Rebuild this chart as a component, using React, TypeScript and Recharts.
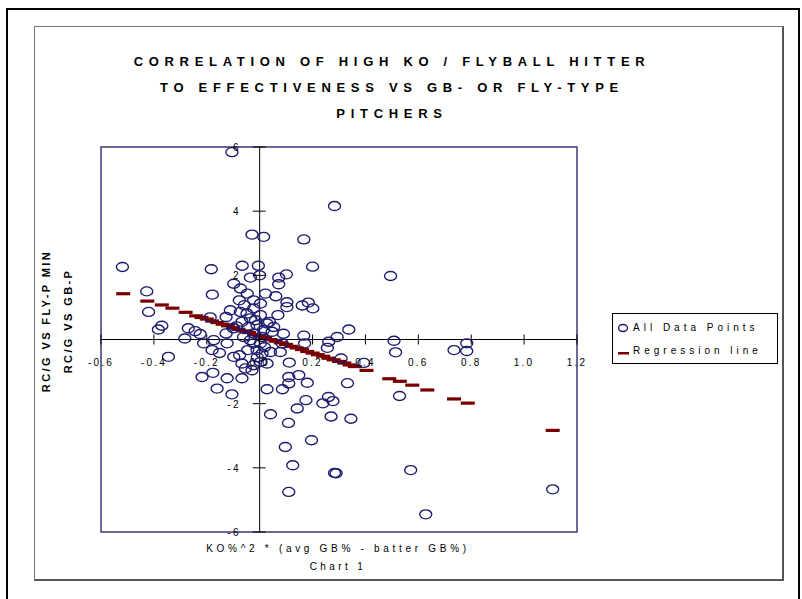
import React from 'react';
import { ScatterChart, Scatter, XAxis, YAxis, ReferenceLine, ReferenceArea } from 'recharts';

const W = 802;
const H = 599;
const AXIS_H = 30;
const AXIS_W = 30;
const PLOT_LEFT = 101;
const PLOT_TOP = 147;
const PLOT_RIGHT = 577;
const PLOT_BOTTOM = 532;
const MARGIN = { top: PLOT_TOP, right: W - PLOT_RIGHT, bottom: H - PLOT_BOTTOM - AXIS_H, left: PLOT_LEFT - AXIS_W };
const X_MIN = -0.6;
const X_MAX = 1.2;
const Y0 = (PLOT_TOP + PLOT_BOTTOM) / 2;
const X0 = PLOT_LEFT + ((PLOT_RIGHT - PLOT_LEFT) * (0 - X_MIN)) / (X_MAX - X_MIN);

const titleLines = [
  'CORRELATION OF HIGH KO / FLYBALL HITTER',
  'TO EFFECTIVENESS VS GB- OR FLY-TYPE',
  'PITCHERS',
];
const yTitleLines = ['RC/G VS FLY-P MIN', 'RC/G VS GB-P'];
const xTitle = 'KO%^2 * (avg GB% - batter GB%)';
const caption = 'Chart 1';
const seriesNames = ['All Data Points', 'Regression line'];

const xTicks = [-0.6, -0.4, -0.2, 0, 0.2, 0.4, 0.6, 0.8, 1.0, 1.2];
const xTickLabels = ['-0.6', '-0.4', '-0.2', '0.0', '0.2', '0.4', '0.6', '0.8', '1.0', '1.2'];
const yTicks = [-6, -4, -2, 0, 2, 4, 6];
const yTickLabels = ['-6', '-4', '-2', '', '2', '4', '6'];

const pointX = [
  -0.105, 0.283, -0.029, 0.015, 0.167, -0.519, -0.183, -0.066, -0.005, 0.2,
  0.495, 0.0, -0.035, 0.072, 0.101, -0.098, 0.072, -0.073, -0.047, -0.427,
  -0.179, 0.022, 0.061, -0.077, -0.023, 0.003, 0.103, 0.103, 0.161, 0.184,
  0.201, -0.42, -0.187, -0.111, -0.127, -0.37, -0.383, -0.27, -0.244, -0.225,
  -0.127, 0.069, 0.037, 0.09, 0.167, 0.053, 0.293, 0.337, 0.261, 0.256,
  0.17, 0.078, 0.041, 0.112, 0.009, 0.308, 0.148, 0.11, 0.11, 0.18,
  0.086, 0.028, 0.332, 0.26, 0.277, 0.239, 0.175, 0.142, 0.041, 0.27,
  0.109, 0.345, 0.196, 0.097, 0.125, 0.11, 0.283, 0.289, 0.571, 0.628,
  1.108, 0.529, 0.508, 0.514, 0.735, 0.783, 0.783, 0.394, -0.283, -0.212,
  -0.18, -0.152, -0.123, -0.098, -0.067, -0.023, 0.003, 0.028, 0.085, -0.218,
  -0.177, -0.123, -0.067, -0.161, -0.105, -0.345, -0.174, -0.076, -0.054, -0.029,
  -0.073, -0.048, -0.023, -0.067, -0.042, -0.023, -0.061, -0.023, -0.045, -0.01,
  0.003, -0.01, 0.009, 0.028, 0.047, 0.003, -0.035, -0.088, -0.016, 0.014,
  -0.058, -0.035, -0.009, -0.1, 0.018,
];
const pointY = [
  5.84, 4.16, 3.27, 3.2, 3.12, 2.26, 2.19, 2.3, 2.3, 2.27,
  1.98, 2.0, 1.93, 1.93, 2.03, 1.74, 1.72, 1.59, 1.43, 1.5,
  1.4, 1.43, 1.35, 1.22, 1.22, 1.12, 1.16, 1.01, 1.06, 1.15,
  0.97, 0.86, 0.69, 0.91, 0.7, 0.43, 0.31, 0.35, 0.26, 0.17,
  0.19, 0.76, 0.55, 0.18, 0.12, 0.39, 0.08, 0.31, -0.07, -0.26,
  -0.12, -0.39, -0.39, -0.72, -0.44, -0.59, -1.11, -1.17, -1.37, -1.35,
  -1.55, -1.55, -1.36, -1.79, -1.92, -1.99, -1.89, -2.15, -2.33, -2.4,
  -2.6, -2.47, -3.14, -3.35, -3.92, -4.75, -4.16, -4.17, -4.07, -5.45,
  -4.67, -1.76, -0.04, -0.4, -0.33, -0.12, -0.36, -0.73, 0.03, -0.12,
  -0.33, -0.42, -0.12, -0.54, -0.75, -0.8, -0.7, -0.75, -0.12, -1.17,
  -1.04, -1.21, -1.21, -1.53, -1.71, -0.54, -0.02, -0.49, -0.9, -0.96,
  0.86, 0.81, 0.97, 0.55, 0.39, 0.19, 0.08, -0.12, -0.33, -0.33,
  0.76, 0.45, 0.08, 0.5, 0.24, -0.12, 0.66, 0.41, 0.6, 0.29,
  1.07, -0.02, -0.55, 0.35, -0.24,
];

const regX = [
  -0.516, -0.425, -0.37, -0.33, -0.28, -0.24, -0.22, -0.2, -0.18, -0.16,
  -0.14, -0.12, -0.1, -0.08, -0.06, -0.04, -0.02, 0.0, 0.02, 0.04,
  0.06, 0.08, 0.1, 0.12, 0.14, 0.16, 0.18, 0.2, 0.22, 0.24,
  0.26, 0.28, 0.3, 0.32, 0.34, 0.36, 0.404, 0.49, 0.53, 0.577,
  0.634, 0.735, 0.787, 1.108,
];
const regY = [
  1.43, 1.2, 1.08, 0.98, 0.85, 0.74, 0.69, 0.64, 0.58, 0.53,
  0.48, 0.43, 0.37, 0.32, 0.27, 0.22, 0.16, 0.11, 0.06, 0.0,
  -0.05, -0.1, -0.15, -0.21, -0.26, -0.31, -0.37, -0.42, -0.47, -0.52,
  -0.58, -0.63, -0.68, -0.73, -0.79, -0.84, -0.96, -1.22, -1.3, -1.42,
  -1.57, -1.85, -1.98, -2.83,
];

const pointData = pointX.map((x, i) => ({ x, y: pointY[i] }));
const regData = regX.map((x, i) => ({ x, y: regY[i] }));

const NAVY = '#1c1c6e';
const MAROON = '#7a0000';
const FONT = 'Liberation Sans, Arial, sans-serif';

const Oval = (props: any) => {
  const { cx, cy } = props;
  if (cx == null || cy == null) return null;
  return <ellipse cx={cx} cy={cy} rx={6} ry={4.5} fill="none" stroke={NAVY} strokeWidth={1.4} />;
};

const Dash = (props: any) => {
  const { cx, cy } = props;
  if (cx == null || cy == null) return null;
  return <rect x={cx - 7} y={cy - 1.5} width={14} height={3.2} fill={MAROON} />;
};

const XTick = (props: any) => {
  const { x, payload } = props;
  const idx = xTicks.findIndex((t) => Math.abs(t - payload.value) < 1e-6);
  return (
    <g>
      <line x1={x} x2={x} y1={Y0 - 5} y2={Y0 + 5} stroke="#000" strokeWidth={1} />
      <text x={x} y={Y0 + 26} textAnchor="middle" fill="#000" fontFamily={FONT} fontSize={10} letterSpacing={2.2}>
        {idx >= 0 ? xTickLabels[idx] : ''}
      </text>
    </g>
  );
};

const YTick = (props: any) => {
  const { y, payload } = props;
  const idx = yTicks.findIndex((t) => Math.abs(t - payload.value) < 1e-6);
  return (
    <g>
      <line x1={X0 - 7} x2={X0 + 6} y1={y} y2={y} stroke="#000" strokeWidth={1} />
      <text x={X0 - 19} y={y + 4} textAnchor="end" fill="#000" fontFamily={FONT} fontSize={10} letterSpacing={2.2}>
        {idx >= 0 ? yTickLabels[idx] : ''}
      </text>
    </g>
  );
};

export default function App() {
  return (
    <div style={{ position: 'absolute', left: 0, top: 0, width: W, height: H, background: '#fff', fontFamily: FONT }}>
      {/* outer page frame */}
      <div style={{ position: 'absolute', left: 6, top: 8, width: 790, height: 620, borderLeft: '2px solid #000', borderTop: '2px solid #000', borderRight: '2px solid #000' }} />
      {/* chart frame */}
      <div style={{ position: 'absolute', left: 34, top: 26, width: 747, height: 552, border: '1px solid #777', borderRightWidth: 2, borderBottomWidth: 2, borderRightColor: '#555', borderBottomColor: '#555' }} />

      <div style={{ position: 'absolute', left: 0, top: 0 }}>
        <ScatterChart width={W} height={H} margin={MARGIN}>
          <XAxis
            dataKey="x"
            type="number"
            domain={[X_MIN, X_MAX]}
            ticks={xTicks}
            interval={0}
            allowDataOverflow
            axisLine={false}
            tickLine={false}
            height={AXIS_H}
            tick={<XTick />}
          />
          <YAxis
            dataKey="y"
            type="number"
            domain={[-6, 6]}
            ticks={yTicks}
            interval={0}
            allowDataOverflow
            axisLine={false}
            tickLine={false}
            width={AXIS_W}
            tick={<YTick />}
          />
          <ReferenceArea x1={X_MIN} x2={X_MAX} y1={-6} y2={6} fill="none" stroke="#3a3a7a" strokeWidth={1.5} fillOpacity={0} />
          <ReferenceLine y={0} stroke="#000" strokeWidth={1} />
          <ReferenceLine x={0} stroke="#000" strokeWidth={1} />
          <Scatter name={seriesNames[1]} data={regData} shape={<Dash />} isAnimationActive={false} />
          <Scatter name={seriesNames[0]} data={pointData} shape={<Oval />} isAnimationActive={false} />
        </ScatterChart>
      </div>

      {/* title */}
      {titleLines.map((t, i) => (
        <div
          key={i}
          style={{
            position: 'absolute',
            left: 0,
            width: 784,
            top: 54 + i * 26,
            textAlign: 'center',
            fontWeight: 'bold',
            fontSize: 13,
            letterSpacing: 5.7,
            lineHeight: '16px',
            color: '#000',
            whiteSpace: 'nowrap',
          }}
        >
          {t}
        </div>
      ))}

      {/* y axis title */}
      {yTitleLines.map((t, i) => (
        <div
          key={i}
          style={{
            position: 'absolute',
            left: (i === 0 ? 46 : 68) - 100,
            top: 321 - 7,
            width: 200,
            height: 14,
            lineHeight: '14px',
            textAlign: 'center',
            fontWeight: 'bold',
            fontSize: 11,
            letterSpacing: 2.4,
            transform: 'rotate(-90deg)',
            color: '#000',
            whiteSpace: 'nowrap',
          }}
        >
          {t}
        </div>
      ))}

      {/* x axis title and caption */}
      <div style={{ position: 'absolute', left: 138, width: 400, top: 542, textAlign: 'center', fontSize: 10, letterSpacing: 3.7, lineHeight: '14px', whiteSpace: 'nowrap' }}>
        {xTitle}
      </div>
      <div style={{ position: 'absolute', left: 138, width: 400, top: 560, textAlign: 'center', fontSize: 10, letterSpacing: 3.4, lineHeight: '14px', whiteSpace: 'nowrap' }}>
        {caption}
      </div>

      {/* legend */}
      <div style={{ position: 'absolute', left: 612, top: 313, width: 164, height: 49, border: '1px solid #000', background: '#fff', fontSize: 10, letterSpacing: 4 }}>
        <div style={{ position: 'absolute', left: 4, top: 6, height: 14, display: 'flex', alignItems: 'center', whiteSpace: 'nowrap' }}>
          <svg width={14} height={12} style={{ marginRight: 2 }}>
            <ellipse cx={6} cy={7} rx={4.5} ry={3.5} fill="none" stroke={NAVY} strokeWidth={1.4} />
          </svg>
          <span>{seriesNames[0]}</span>
        </div>
        <div style={{ position: 'absolute', left: 4, top: 29, height: 14, display: 'flex', alignItems: 'center', whiteSpace: 'nowrap' }}>
          <svg width={14} height={12} style={{ marginRight: 2 }}>
            <rect x={1} y={8} width={11} height={2.5} fill={MAROON} />
          </svg>
          <span>{seriesNames[1]}</span>
        </div>
      </div>
    </div>
  );
}
